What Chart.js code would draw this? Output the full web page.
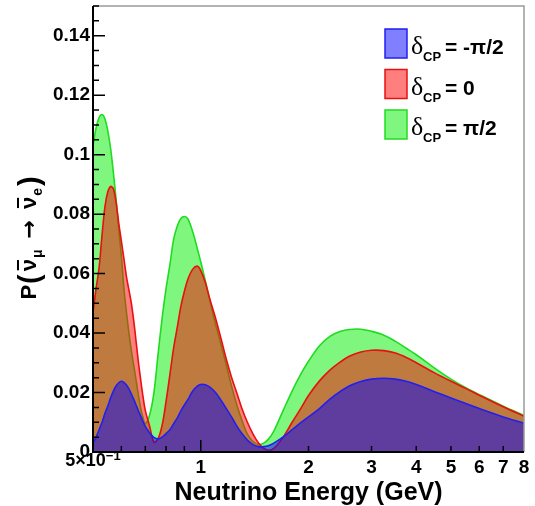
<!DOCTYPE html>
<html>
<head>
<meta charset="utf-8">
<script src="https://cdn.jsdelivr.net/npm/chart.js@4.4.1/dist/chart.umd.min.js"></script>
<style>
  html, body { margin: 0; padding: 0; background: #fff; }
  canvas { display: block; }
</style>
</head>
<body>
<canvas id="probChart" width="535" height="506"></canvas>
<script>
// neutrino energy in GeV (shared x values for the three curves)
const energy = [
  0.50, 0.51, 0.52, 0.53, 0.54, 0.55, 0.56, 0.57, 0.58, 0.59,
  0.60, 0.61, 0.62, 0.63, 0.64, 0.65, 0.66, 0.67, 0.68, 0.69,
  0.70, 0.72, 0.74, 0.76, 0.78, 0.80, 0.82, 0.84, 0.86, 0.88,
  0.90, 0.92, 0.95, 0.98, 1.00, 1.03, 1.06, 1.10, 1.14, 1.18,
  1.22, 1.26, 1.30, 1.35, 1.40, 1.45, 1.50, 1.55, 1.60, 1.70,
  1.80, 1.90, 2.00, 2.15, 2.30, 2.45, 2.60, 2.80, 3.00, 3.25,
  3.50, 3.75, 4.00, 4.50, 5.00, 5.50, 6.00, 7.00, 8.00,
];

// appearance probability for dCP = -pi/2
const probMinusHalfPi = [
  0.003, 0.005, 0.0075, 0.010, 0.013, 0.0155, 0.0182, 0.0205, 0.0222, 0.0233,
  0.0238, 0.0234, 0.0225, 0.0212, 0.0195, 0.0177, 0.0157, 0.0138, 0.012, 0.0102,
  0.0086, 0.0064, 0.0049, 0.0044, 0.0050, 0.0062, 0.0075, 0.0095, 0.0115, 0.0138,
  0.0158, 0.0176, 0.0205, 0.0222, 0.0227, 0.0226, 0.0218, 0.0200, 0.0173, 0.0145,
  0.0117, 0.0088, 0.0064, 0.0040, 0.0025, 0.0018, 0.0018, 0.0022, 0.0030, 0.0051,
  0.0075, 0.0098, 0.0118, 0.0147, 0.0179, 0.0203, 0.0222, 0.0237, 0.0245, 0.0248,
  0.0245, 0.0238, 0.0227, 0.0203, 0.0182, 0.0163, 0.0146, 0.0118, 0.0097,
];

// dCP = 0
const probZero = [
  0.047, 0.055, 0.062, 0.073, 0.0825, 0.0875, 0.0893, 0.0885, 0.084, 0.077,
  0.071, 0.065, 0.059, 0.0545, 0.050, 0.044, 0.037, 0.030, 0.024, 0.0185,
  0.014, 0.0086, 0.0033, 0.0045, 0.009, 0.017, 0.026, 0.035, 0.042, 0.049,
  0.054, 0.058, 0.0615, 0.0625, 0.061, 0.057, 0.0515, 0.045, 0.038, 0.031,
  0.025, 0.020, 0.015, 0.010, 0.006, 0.003, 0.0012, 0.0006, 0.0012, 0.005,
  0.010, 0.0145, 0.019, 0.024, 0.0276, 0.0302, 0.0322, 0.0336, 0.0342, 0.0341,
  0.0333, 0.0318, 0.0300, 0.0266, 0.0238, 0.0214, 0.0191, 0.0152, 0.0120,
];

// dCP = +pi/2
const probPlusHalfPi = [
  0.103, 0.109, 0.1125, 0.1135, 0.112, 0.108, 0.102, 0.094, 0.085, 0.075,
  0.066, 0.055, 0.047, 0.040, 0.034, 0.029, 0.024, 0.019, 0.0145, 0.0115,
  0.0095, 0.0125, 0.020, 0.033, 0.045, 0.055, 0.063, 0.0715, 0.076, 0.0785,
  0.0792, 0.0785, 0.074, 0.068, 0.064, 0.0575, 0.051, 0.043, 0.036, 0.029,
  0.022, 0.016, 0.011, 0.006, 0.0035, 0.0025, 0.003, 0.0045, 0.007, 0.014,
  0.0205, 0.026, 0.0305, 0.0358, 0.0390, 0.0405, 0.0412, 0.0413, 0.0406, 0.0393,
  0.0372, 0.0349, 0.0327, 0.0282, 0.0245, 0.0216, 0.0193, 0.0154, 0.0123,
];

const phaseLabels = ["-\u03c0/2", "0", "\u03c0/2"];

const yTicks = [0, 0.02, 0.04, 0.06, 0.08, 0.1, 0.12, 0.14];
const yTickLabels = ["0", "0.02", "0.04", "0.06", "0.08", "0.1", "0.12", "0.14"];
const xTicks = [1, 2, 3, 4, 5, 6, 7, 8];
const xTickLabels = ["1", "2", "3", "4", "5", "6", "7", "8"];
const xMinorTicks = [0.6, 0.7, 0.8, 0.9, 2, 3, 4, 5, 6, 7];

const SANS = '"Liberation Sans", Arial, sans-serif';

function series(label, values, line, fill) {
  return {
    label,
    data: energy.map((e, i) => ({ x: e, y: values[i] })),
    borderColor: line,
    backgroundColor: fill,
    borderWidth: 1.6,
    fill: "origin",
    pointRadius: 0,
    tension: 0.35,
  };
}

// axes, frame, titles and legend drawn ROOT-style on top of the fills
const rootStyle = {
  id: "rootStyle",
  afterDatasetsDraw(chart) {
    const { ctx, chartArea: a, scales: { x, y } } = chart;
    ctx.save();

    ctx.strokeStyle = "#9a9a9a";
    ctx.lineWidth = 1.5;
    ctx.beginPath();
    ctx.moveTo(a.left, a.top);
    ctx.lineTo(a.right, a.top);
    ctx.lineTo(a.right, a.bottom);
    ctx.stroke();

    ctx.strokeStyle = "#000";
    ctx.lineWidth = 2;
    ctx.beginPath();
    ctx.moveTo(a.left, a.top);
    ctx.lineTo(a.left, a.bottom);
    ctx.lineTo(a.right, a.bottom);
    ctx.stroke();

    // y ticks: majors every 0.02, minors every 0.005
    ctx.lineWidth = 1.5;
    ctx.beginPath();
    for (let k = 0; k <= 30; k++) {
      const py = y.getPixelForValue(k * 0.005);
      const len = k % 4 === 0 ? 12 : 6;
      ctx.moveTo(a.left, py);
      ctx.lineTo(a.left + len, py);
    }
    xMinorTicks.forEach((v) => {
      const px = x.getPixelForValue(v);
      ctx.moveTo(px, a.bottom);
      ctx.lineTo(px, a.bottom - 6);
    });
    const p1 = x.getPixelForValue(1);
    ctx.moveTo(p1, a.bottom);
    ctx.lineTo(p1, a.bottom - 12);
    ctx.stroke();

    ctx.fillStyle = "#000";
    ctx.font = `bold 19px ${SANS}`;
    ctx.textAlign = "right";
    ctx.textBaseline = "middle";
    yTicks.forEach((v, i) => ctx.fillText(yTickLabels[i], a.left - 3, y.getPixelForValue(v)));

    ctx.textAlign = "center";
    ctx.textBaseline = "alphabetic";
    xTicks.forEach((v, i) => ctx.fillText(xTickLabels[i], x.getPixelForValue(v), a.bottom + 21));

    // 5x10^-1 at the lower edge
    const base = "5\u00d710";
    ctx.font = `bold 18px ${SANS}`;
    const wb = ctx.measureText(base).width;
    ctx.font = `bold 13px ${SANS}`;
    const we = ctx.measureText("\u22121").width;
    const x0 = x.getPixelForValue(0.5) - (wb + we) / 2;
    ctx.textAlign = "left";
    ctx.font = `bold 18px ${SANS}`;
    ctx.fillText(base, x0, a.bottom + 14);
    ctx.font = `bold 13px ${SANS}`;
    ctx.fillText("\u22121", x0 + wb, a.bottom + 8);

    // x title
    ctx.textAlign = "center";
    ctx.font = `bold 25px ${SANS}`;
    ctx.fillText("Neutrino Energy (GeV)", (a.left + a.right) / 2, 500);

    drawYTitle(ctx, 36, (a.top + a.bottom) / 2 + 9);
    drawLegend(ctx, chart.data.datasets);
    ctx.restore();
  },
};

function drawYTitle(ctx, cx, cy) {
  const pieces = [
    { t: "P", font: `bold 22px ${SANS}`, dy: 0, gap: 0 },
    { t: "(", font: `bold 29px ${SANS}`, dy: 3, gap: 1 },
    { t: "\u03bd", font: `bold 22px ${SANS}`, dy: 0, gap: 3, bar: true },
    { t: "\u03bc", font: `bold 14px ${SANS}`, dy: 6, gap: 1 },
    { t: "\u2192", font: `bold 22px "DejaVu Sans", sans-serif`, dy: 0, gap: 11 },
    { t: "\u03bd", font: `bold 22px ${SANS}`, dy: 0, gap: 11, bar: true },
    { t: "e", font: `bold 14px ${SANS}`, dy: 6, gap: 1 },
    { t: ")", font: `bold 29px ${SANS}`, dy: 3, gap: 2 },
  ];
  let total = 0;
  pieces.forEach((p) => {
    ctx.font = p.font;
    p.w = ctx.measureText(p.t).width;
    total += p.gap + p.w;
  });
  ctx.save();
  ctx.translate(cx, cy);
  ctx.rotate(-Math.PI / 2);
  ctx.textAlign = "left";
  ctx.textBaseline = "alphabetic";
  let pos = -total / 2;
  pieces.forEach((p) => {
    pos += p.gap;
    ctx.font = p.font;
    ctx.fillText(p.t, pos, p.dy);
    if (p.bar) ctx.fillRect(pos + 1, -19, p.w - 2, 2);
    pos += p.w;
  });
  ctx.restore();
}

function drawLegend(ctx, datasets) {
  datasets.forEach((ds, i) => {
    const top = 29 + i * 40.5;
    ctx.fillStyle = "#fff";
    ctx.fillRect(385, top, 22, 29);
    ctx.fillStyle = ds.backgroundColor;
    ctx.fillRect(385, top, 22, 29);
    ctx.strokeStyle = ds.borderColor;
    ctx.lineWidth = 1.5;
    ctx.strokeRect(385, top, 22, 29);

    const bl = top + 25;
    ctx.fillStyle = "#000";
    ctx.textAlign = "left";
    ctx.font = `26px "Liberation Serif", serif`;
    ctx.fillText("\u03b4", 411, bl);
    ctx.font = `bold 13px ${SANS}`;
    ctx.fillText("CP", 423, bl + 7);
    ctx.font = `bold 21px ${SANS}`;
    ctx.fillText("= " + phaseLabels[i], 445, bl);
  });
}

new Chart(document.getElementById("probChart"), {
  type: "line",
  data: {
    datasets: [
      series("\u03b4CP = -\u03c0/2", probMinusHalfPi, "#2020f0", "rgba(0, 0, 255, 0.5)"),
      series("\u03b4CP = 0", probZero, "#e81010", "rgba(255, 0, 0, 0.5)"),
      series("\u03b4CP = \u03c0/2", probPlusHalfPi, "#20dc20", "rgba(0, 240, 0, 0.5)"),
    ],
  },
  options: {
    responsive: false,
    animation: false,
    layout: { padding: { left: 93, right: 11, top: 6, bottom: 54 } },
    plugins: { legend: { display: false }, tooltip: { enabled: false } },
    scales: {
      x: { type: "logarithmic", min: 0.5, max: 8, display: false },
      y: { type: "linear", min: 0, max: 0.15, display: false },
    },
  },
  plugins: [rootStyle],
});
</script>
</body>
</html>
